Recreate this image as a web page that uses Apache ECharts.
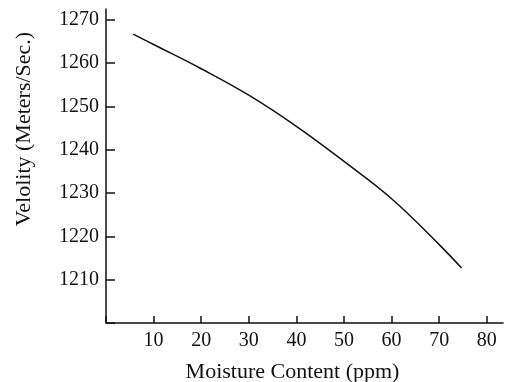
<!DOCTYPE html>
<html>
<head>
<meta charset="utf-8">
<script src="https://cdn.jsdelivr.net/npm/echarts@6/dist/echarts.min.js"></script>
<style>html,body{margin:0;padding:0;background:#fff}#c{width:505px;height:382px}</style>
</head>
<body>
<div id="c"></div>
<script>
const moisture = [5.7, 10, 20, 30, 40, 50, 60, 70, 74.7];
const velocity = [1266.7, 1264.3, 1258.7, 1252.6, 1245.4, 1237.3, 1228.7, 1218.1, 1212.7];
const xTicks = [10, 20, 30, 40, 50, 60, 70, 80];
const yTicks = [1210, 1220, 1230, 1240, 1250, 1260, 1270];
const xTitle = 'Moisture Content (ppm)';
const yTitle = 'Velolity (Meters/Sec.)';

const font = 'Liberation Serif';
const chart = echarts.init(document.getElementById('c'));
chart.setOption({
  animation: false,
  backgroundColor: '#fff',
  grid: {left: 106, right: 2, top: 9, bottom: 59, containLabel: false, outerBoundsMode: 'none'},
  xAxis: {
    type: 'value', min: 0, max: 83.4, interval: 10,
    name: xTitle, nameLocation: 'middle', nameGap: 38,
    nameTextStyle: {fontFamily: font, fontSize: 22, color: '#111', padding: [0, 24, 0, 0]},
    axisLine: {lineStyle: {color: '#111', width: 1.5}},
    axisTick: {show: true, inside: true, length: 7, lineStyle: {color: '#111', width: 1.5}},
    axisLabel: {fontFamily: font, fontSize: 20, color: '#111', margin: 8,
      formatter: v => xTicks.includes(v) ? String(v) : '', showMaxLabel: false},
    splitLine: {show: false}
  },
  yAxis: {
    type: 'value', min: 1200, max: 1272.5, interval: 10,
    name: yTitle, nameLocation: 'middle', nameGap: 71, nameRotate: 90,
    nameTextStyle: {fontFamily: font, fontSize: 22, color: '#111', padding: [0, 0, 0, 74]},
    axisLine: {lineStyle: {color: '#111', width: 1.5}},
    axisTick: {show: true, inside: true, length: 9, lineStyle: {color: '#111', width: 1.5}},
    axisLabel: {fontFamily: font, fontSize: 20, color: '#111', margin: 7,
      formatter: v => yTicks.includes(v) ? String(v) : '', showMaxLabel: false},
    splitLine: {show: false}
  },
  series: [{
    type: 'line', smooth: 0.4, showSymbol: false,
    data: moisture.map((m, i) => [m, velocity[i]]),
    lineStyle: {color: '#111', width: 1.5}
  }]
});
</script>
</body>
</html>
